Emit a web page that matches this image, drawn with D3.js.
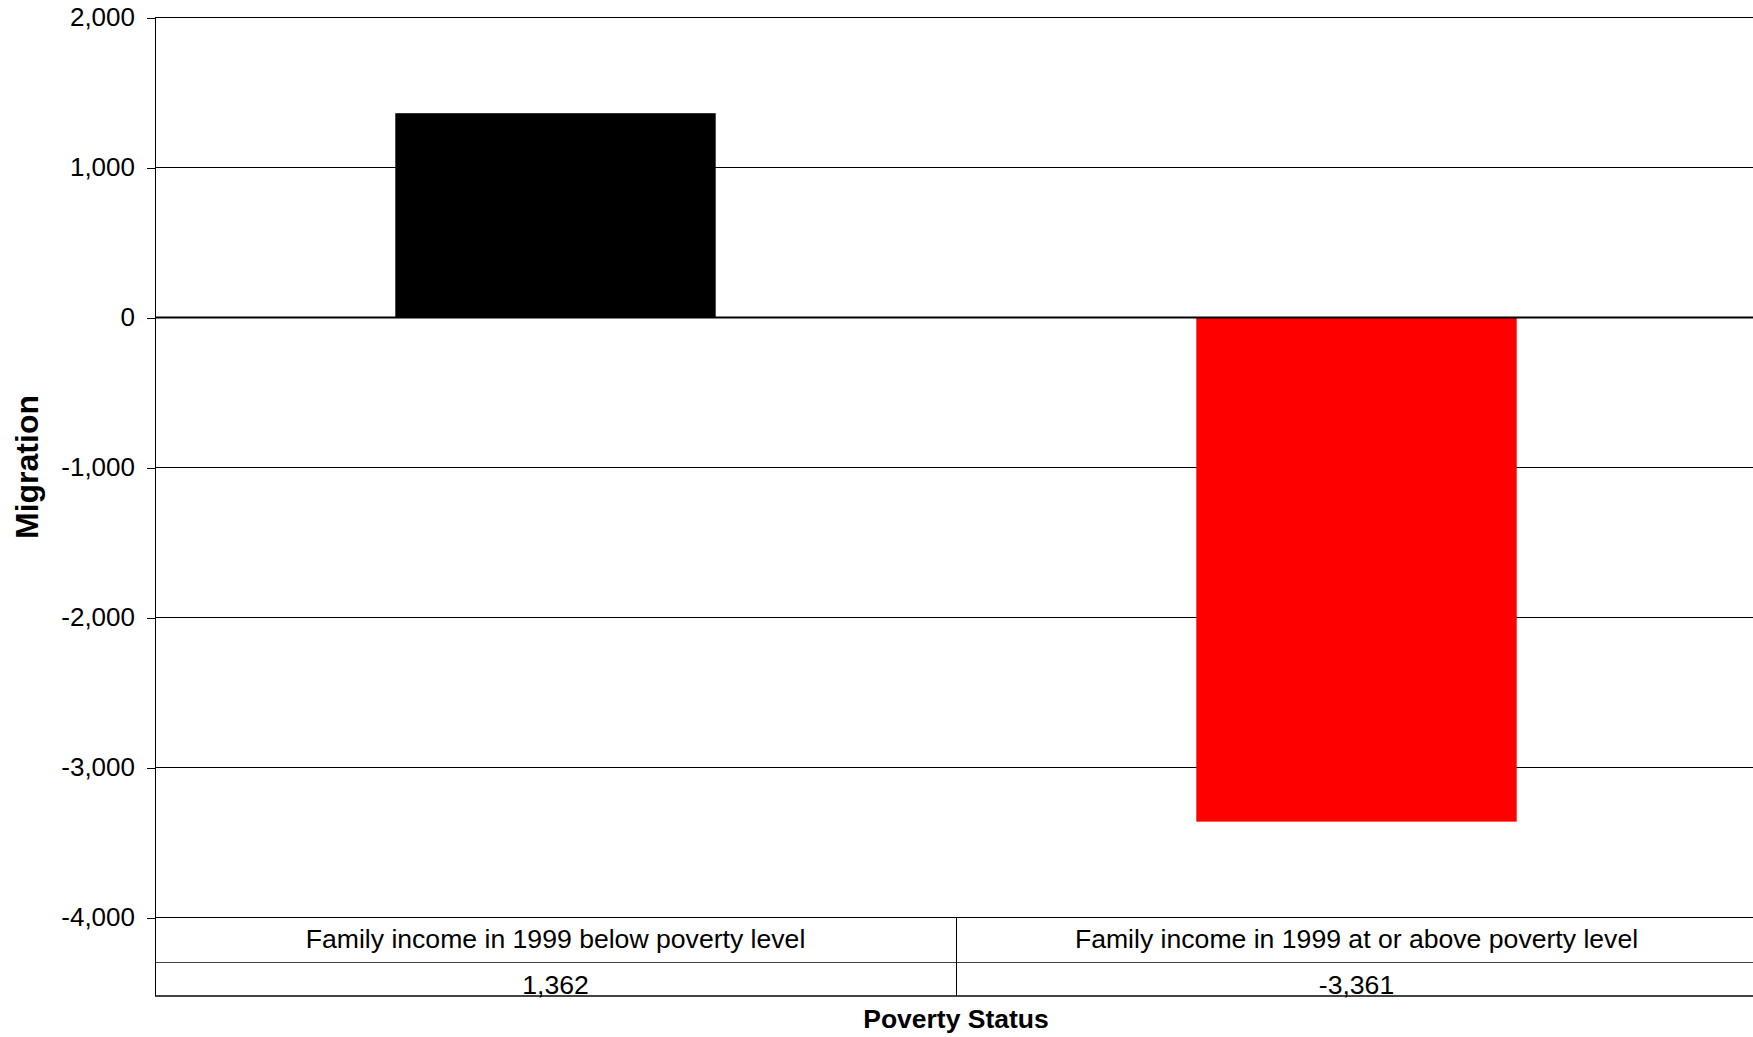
<!DOCTYPE html>
<html><head><meta charset="utf-8">
<script src="https://cdn.jsdelivr.net/npm/d3@7"></script>
<style>body{margin:0;background:#fff}svg{display:block;font-family:"Liberation Sans",Arial,sans-serif}</style>
</head><body><svg id="c" width="1753" height="1037"></svg>
<script>
const categories = ["Family income in 1999 below poverty level", "Family income in 1999 at or above poverty level"];
const values = [1362, -3361];
const barColors = ["#000000", "#ff0000"];
const yTicks = [2000, 1000, 0, -1000, -2000, -3000, -4000];

const svg = d3.select("#c");
const L = 155, R = 1757, T = 17.5, B = 917.5;
const y = d3.scaleLinear().domain([-4000, 2000]).range([B, T]);
const x = d3.scaleBand().domain(categories).range([L, R]).paddingInner(0).paddingOuter(0);
const fmt = d => d3.format(",")(d).replace("\u2212", "-");

// gridlines
svg.append("g").selectAll("line").data(yTicks.filter(d => d !== 0)).join("line")
  .attr("x1", L).attr("x2", R).attr("y1", d => y(d)).attr("y2", d => y(d))
  .attr("stroke", "#000").attr("stroke-width", 1).attr("shape-rendering", "crispEdges");

// y axis
const yAxis = d3.axisLeft(y).tickValues(yTicks).tickFormat(fmt).tickSize(8).tickPadding(12);
const ga = svg.append("g").attr("transform", `translate(${L},0)`).call(yAxis);
ga.select(".domain").attr("stroke", "#000").attr("shape-rendering", "crispEdges");
ga.selectAll(".tick line").attr("stroke", "#000").attr("shape-rendering", "crispEdges");
ga.selectAll(".tick text").attr("font-size", 26).attr("fill", "#000")
  .attr("font-family", "'Liberation Sans', Arial, sans-serif");

// bars
const bw = x.bandwidth() * 0.4;
svg.append("g").selectAll("rect").data(values).join("rect")
  .attr("x", (d, i) => x(categories[i]) + (x.bandwidth() - bw) / 2)
  .attr("width", bw)
  .attr("y", d => y(Math.max(0, d)))
  .attr("height", d => Math.abs(y(d) - y(0)))
  .attr("fill", (d, i) => barColors[i]);

// zero line
svg.append("line").attr("x1", L).attr("x2", R).attr("y1", y(0)).attr("y2", y(0))
  .attr("stroke", "#000").attr("stroke-width", 2);

// data table
const row1 = 962, row2 = 996;
const tbl = svg.append("g").attr("stroke", "#000").attr("shape-rendering", "crispEdges");
tbl.append("line").attr("x1", L).attr("x2", R).attr("y1", row1).attr("y2", row1).attr("stroke", "#444");
tbl.append("line").attr("x1", L).attr("x2", R).attr("y1", row2).attr("y2", row2).attr("stroke", "#444").attr("stroke-width", 2);
tbl.append("line").attr("x1", L).attr("x2", L).attr("y1", B).attr("y2", row2);
tbl.selectAll(".div").data(categories.slice(1)).join("line")
  .attr("x1", d => x(d)).attr("x2", d => x(d)).attr("y1", B).attr("y2", row2);

svg.append("g").selectAll("text").data(categories).join("text")
  .attr("x", d => x(d) + x.bandwidth() / 2).attr("y", 948)
  .attr("text-anchor", "middle").attr("font-size", 26.6).text(d => d);
svg.append("g").selectAll("text").data(values).join("text")
  .attr("x", (d, i) => x(categories[i]) + x.bandwidth() / 2).attr("y", 994)
  .attr("text-anchor", "middle").attr("font-size", 26.6).text(d => fmt(d));

// axis titles
svg.append("text").attr("x", (L + R) / 2).attr("y", 1028).attr("text-anchor", "middle")
  .attr("font-size", 26.5).attr("font-weight", "bold").text("Poverty Status");
svg.append("text").attr("transform", "translate(38,467) rotate(-90)").attr("text-anchor", "middle")
  .attr("font-size", 32).attr("font-weight", "bold").text("Migration");
</script></body></html>
